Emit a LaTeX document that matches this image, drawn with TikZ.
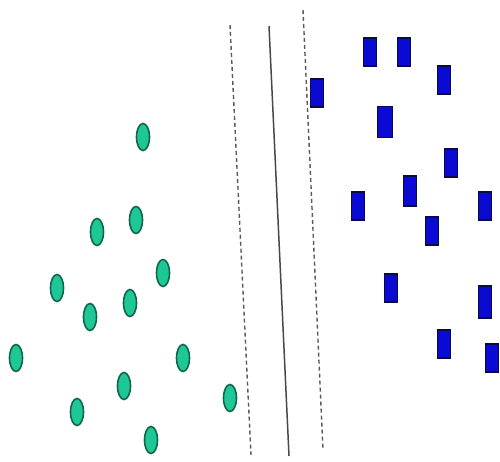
\documentclass[tikz,border=0pt]{standalone}
\usetikzlibrary{shapes.geometric}
\definecolor{dotfill}{RGB}{30,200,150}
\definecolor{dotline}{RGB}{20,100,75}
\definecolor{boxfill}{RGB}{10,10,210}
\definecolor{boxline}{RGB}{10,10,70}
\definecolor{sepgray}{RGB}{90,90,90}
\begin{document}
\begin{tikzpicture}[x=1pt,y=-1pt,
  dot/.style={ellipse,draw=dotline,fill=dotfill,line width=1.6pt,minimum width=13pt,minimum height=27pt,inner sep=0pt},
  box/.style={rectangle,draw=boxline,fill=boxfill,line width=1.4pt,minimum width=13pt,minimum height=28pt,inner sep=0pt},
  margin/.style={draw=sepgray,line width=1.4pt,dash pattern=on 4pt off 3pt},
  hyper/.style={draw=sepgray!80!black,line width=1.5pt}]
\useasboundingbox (0,0) rectangle (500,462);
% separating lines
\coordinate (l1) at (230,25);
\coordinate (l2) at (251,455);
\coordinate (h1) at (269,26);
\coordinate (h2) at (289,456);
\coordinate (r1) at (303,10);
\coordinate (r2) at (323,450);
\draw[margin] (l1) -- (l2);
\draw[hyper] (h1) -- (h2);
\draw[margin] (r1) -- (r2);
% green class
\node[dot] (g1) at (143,137) {};
\node[dot] (g2) at (97,232) {};
\node[dot] (g3) at (136,220) {};
\node[dot] (g4) at (163,273) {};
\node[dot] (g5) at (57,288) {};
\node[dot] (g6) at (130,303) {};
\node[dot] (g7) at (90,317) {};
\node[dot] (g8) at (16,358) {};
\node[dot] (g9) at (183,358) {};
\node[dot] (g10) at (124,386) {};
\node[dot] (g11) at (230,398) {};
\node[dot] (g12) at (77,412) {};
\node[dot] (g13) at (151,440) {};
% blue class
\node[box] (b1) at (370,52) {};
\node[box] (b2) at (404,52) {};
\node[box] (b3) at (444,80) {};
\node[box] (b4) at (317,93) {};
\node[box,minimum width=15pt,minimum height=31pt] (b5) at (385,122) {};
\node[box] (b6) at (451,163) {};
\node[box,minimum height=30pt] (b7) at (410,191) {};
\node[box] (b8) at (358,206) {};
\node[box] (b9) at (485,206) {};
\node[box] (b10) at (432,231) {};
\node[box] (b11) at (391,288) {};
\node[box,minimum height=32pt] (b12) at (485,302) {};
\node[box] (b13) at (444,344) {};
\node[box] (b14) at (492,358) {};
\end{tikzpicture}
\end{document}
